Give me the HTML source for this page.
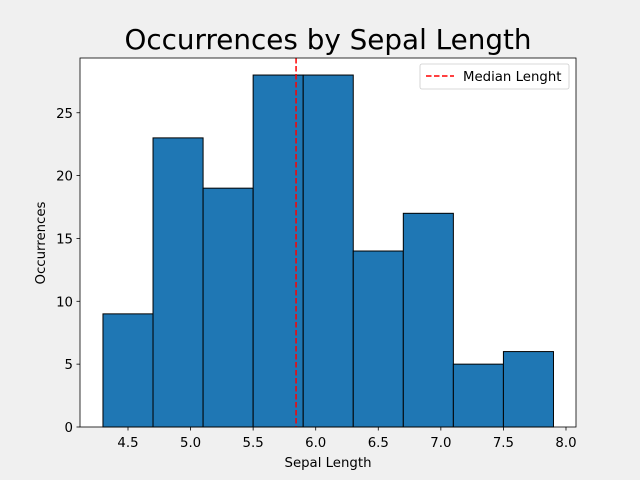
<!DOCTYPE html>
<html><head><meta charset="utf-8"><style>
body{margin:0;background:#f0f0f0;}
svg{display:block;font-family:"DejaVu Sans","Liberation Sans",sans-serif;}
</style></head><body>
<svg id="chart" width="640" height="480">
<rect width="640" height="480" fill="#f0f0f0"/>
<text x="328" y="49" font-size="27.8" text-anchor="middle" fill="#000">Occurrences by Sepal Length</text>
<rect x="80" y="58" width="496" height="369" fill="#fff"/>
<g id="bars"></g>
<g id="xticks"></g>
<g id="yticks"></g>
<line id="median" stroke="red" stroke-width="1.5" stroke-dasharray="5.5,2.5"/>
<rect x="80" y="58" width="496" height="369" fill="none" stroke="#000" stroke-width="0.8"/>
<text x="328" y="467" font-size="13.3" text-anchor="middle">Sepal Length</text>
<text x="0" y="0" font-size="13.3" text-anchor="middle" transform="translate(45,243) rotate(-90)">Occurrences</text>
<g>
<rect x="420" y="64" width="149" height="25" rx="2" fill="#fff" fill-opacity="0.8" stroke="#ccc" stroke-width="0.8"/>
<line x1="426" y1="76" x2="454" y2="76" stroke="red" stroke-width="1.5" stroke-dasharray="5.5,2.5"/>
<text x="463" y="81" font-size="13.3">Median Lenght</text>
</g>
</svg>
<script>
const binEdges=[4.3,4.7,5.1,5.5,5.9,6.3,6.7,7.1,7.5,7.9];
const counts=[9,23,19,28,28,14,17,5,6];
const xTicks=[4.5,5.0,5.5,6.0,6.5,7.0,7.5,8.0];
const yTicks=[0,5,10,15,20,25];
const medianValue=5.843;
const NS="http://www.w3.org/2000/svg";
const xs=v=>128+(v-4.5)*125.14;
const ys=v=>427-v*12.57;
const bars=document.getElementById('bars');
counts.forEach((c,i)=>{
 const r=document.createElementNS(NS,'rect');
 r.setAttribute('x',xs(binEdges[i]));r.setAttribute('width',xs(binEdges[i+1])-xs(binEdges[i]));
 r.setAttribute('y',ys(c));r.setAttribute('height',ys(0)-ys(c));
 r.setAttribute('fill','#1f77b4');r.setAttribute('stroke','#000');r.setAttribute('stroke-width','1');
 
 
 bars.appendChild(r);
});
const xg=document.getElementById('xticks');
xTicks.forEach(t=>{
 const l=document.createElementNS(NS,'line');
 l.setAttribute('x1',xs(t));l.setAttribute('x2',xs(t));l.setAttribute('y1',427);l.setAttribute('y2',430.5);l.setAttribute('stroke','#000');l.setAttribute('stroke-width','0.8');
 
 
 xg.appendChild(l);
 const tx=document.createElementNS(NS,'text');
 tx.setAttribute('x',xs(t));tx.setAttribute('y',447);tx.setAttribute('font-size','13.3');tx.setAttribute('text-anchor','middle');
 tx.textContent=t.toFixed(1);
 
 
 xg.appendChild(tx);
});
const yg=document.getElementById('yticks');
yTicks.forEach(t=>{
 const l=document.createElementNS(NS,'line');
 l.setAttribute('x1',76.5);l.setAttribute('x2',80);l.setAttribute('y1',ys(t));l.setAttribute('y2',ys(t));l.setAttribute('stroke','#000');l.setAttribute('stroke-width','0.8');
 
 
 yg.appendChild(l);
 const tx=document.createElementNS(NS,'text');
 tx.setAttribute('x',73);tx.setAttribute('y',ys(t)+5);tx.setAttribute('font-size','13.3');tx.setAttribute('text-anchor','end');
 tx.textContent=t;
 
 
 yg.appendChild(tx);
});
const m=document.getElementById('median');
m.setAttribute('x1',xs(medianValue));m.setAttribute('x2',xs(medianValue));m.setAttribute('y1',58);m.setAttribute('y2',427);
</script>
</body></html>
